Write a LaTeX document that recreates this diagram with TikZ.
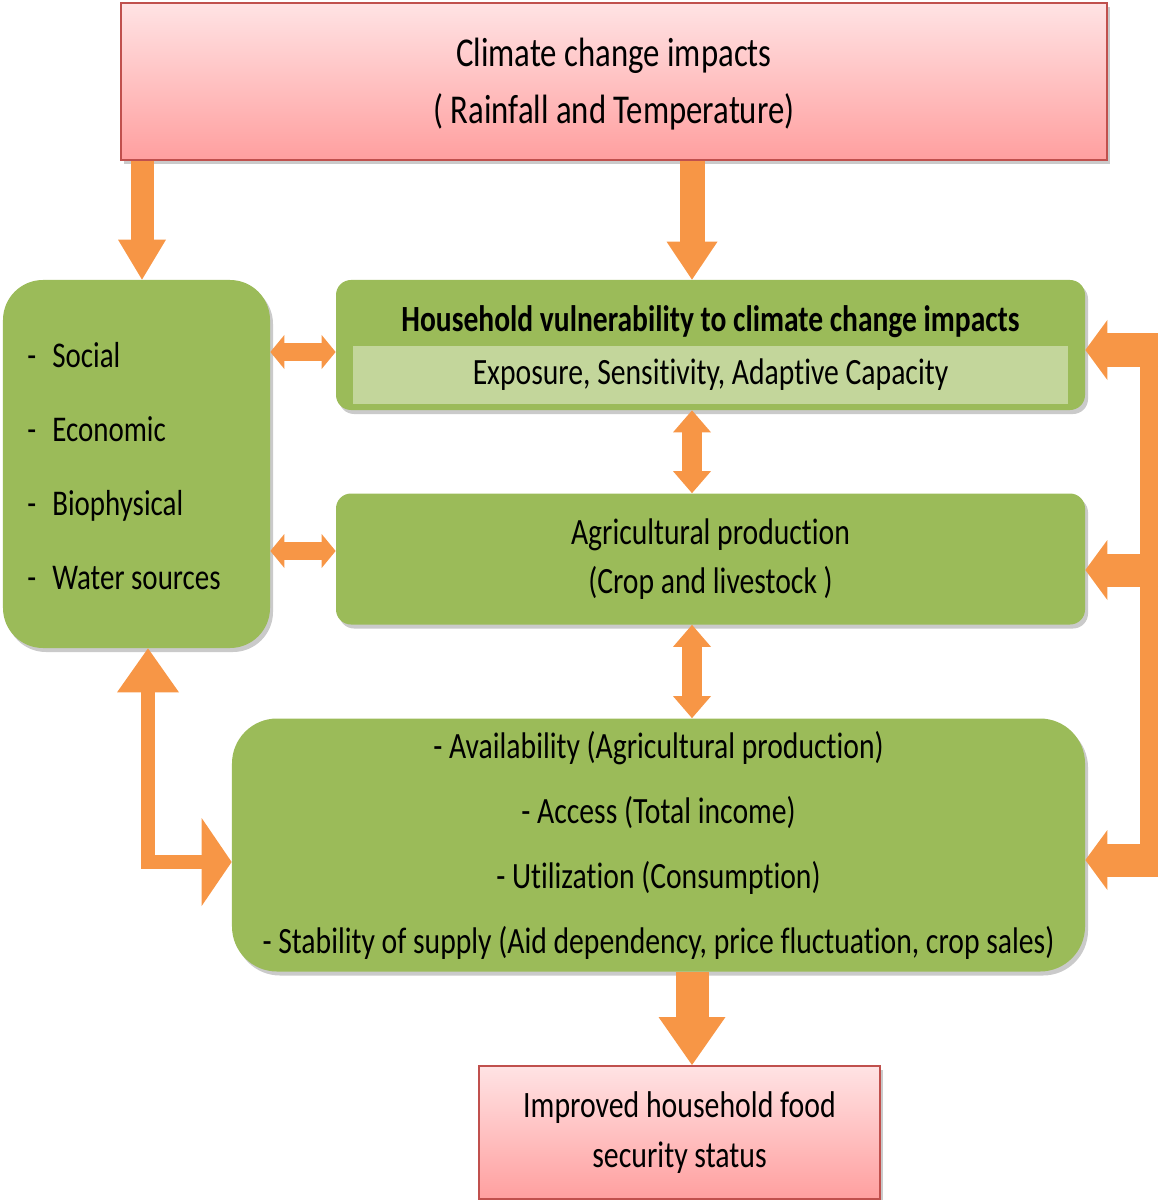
\documentclass[tikz,border=0pt]{standalone}
\usepackage{fontspec}
\setmainfont{Carlito}[FakeStretch=0.8,Ligatures=CommonOff]
\usepackage{tikz}
\usetikzlibrary{arrows.meta,shadows}
\definecolor{leaf}{HTML}{9BBB59}
\definecolor{leaflight}{HTML}{C3D69B}
\definecolor{arrowor}{HTML}{F79646}
\definecolor{pinkedge}{HTML}{C0504D}
\definecolor{pinktop}{HTML}{FFE3E4}
\definecolor{pinkbot}{HTML}{FF9F9F}
\newcommand{\dashitem}{\makebox[5mm][l]{-}}

\begin{document}
\begin{tikzpicture}[
      x=0.2mm, y=-0.2mm,
      softshadow/.style={drop shadow={shadow xshift=0.6mm,shadow yshift=-0.8mm,opacity=0.35,fill=black!60}},
      pinkbox/.style={draw=pinkedge,line width=0.4mm,top color=pinktop,bottom color=pinkbot,align=center,softshadow},
      greenbox/.style={fill=leaf,rounded corners=3mm,softshadow},
      band/.style={fill=leaflight,minimum width=143mm,minimum height=11.6mm},
      bigdown/.style={arrowor,line width=#1},
      twin/.style={arrowor,line width=4mm,{Triangle[length=4.4mm,width=7.6mm,line width=0pt]}-{Triangle[length=4.4mm,width=7.6mm,line width=0pt]}},
      sidetwin/.style={arrowor,line width=3.6mm,{Triangle[length=2.8mm,width=6.8mm,line width=0pt]}-{Triangle[length=2.8mm,width=6.8mm,line width=0pt]}},
      arm/.style={arrowor,line width=6.6mm,-{Triangle[length=4.4mm,width=12mm,line width=0pt]}}
  ]
    \useasboundingbox (0,0) rectangle (1163,1200);

    % boxes
    \node[pinkbox, minimum width=197.2mm, minimum height=31.4mm] (top) at (614,81.5) {};
    \node[align=center, font={\fontsize{23.3}{32}\selectfont}] (toptext) at (614,84)
      {Climate change impacts\\( Rainfall and Temperature)};

    \node[greenbox, rounded corners=8mm, minimum width=53.4mm, minimum height=73.6mm] (fac) at (136.5,464) {};
    \node[anchor=west, inner sep=0pt, align=left, font={\fontsize{20.6}{42}\selectfont}] (faclist) at (27,466)
      {\dashitem Social\\\dashitem Economic\\\dashitem Biophysical\\\dashitem Water sources};

    \node[greenbox, minimum width=149.8mm, minimum height=26mm] (vul) at (710.5,345) {};
    \node[font={\fontsize{21}{24}\selectfont\bfseries}] (vulhead) at (710.5,322)
      {Household vulnerability to climate change impacts};
    \node[band, font={\fontsize{21.1}{24}\selectfont}] (expo) at (710.5,375)
      {Exposure, Sensitivity, Adaptive Capacity};

    \node[greenbox, minimum width=149.8mm, minimum height=26.2mm, align=center, font={\fontsize{21.1}{28}\selectfont}] (agri) at (710.5,559)
      {Agricultural production\\(Crop and livestock )};

    \node[greenbox, rounded corners=9mm, minimum width=170.6mm, minimum height=50.6mm, align=center, font={\fontsize{21.1}{37}\selectfont}] (food) at (658.5,845)
      {- Availability (Agricultural production)\\- Access (Total income)\\- Utilization (Consumption)\\- Stability of supply (Aid dependency, price fluctuation, crop sales)};

    \node[pinkbox, minimum width=80.2mm, minimum height=26.6mm, font={\fontsize{21.2}{28.5}\selectfont}] (res) at (679.5,1132.5)
      {Improved household food\\security status};

    % helper points
    \coordinate (lx) at (142,200);
    \coordinate (axis) at (692,600);
    \coordinate (h1) at (300,352);
    \coordinate (h2) at (300,551);
    \coordinate (lbend) at (148,862);
    \coordinate (r1) at (1158,350);
    \coordinate (r2) at (1158,570);
    \coordinate (r3) at (1158,860);
    \coordinate (rtop) at (1149,333.5);
    \coordinate (rbot) at (1149,876.5);

    % arrows
    \draw[bigdown=4.6mm, -{Triangle[length=8mm,width=9.6mm,line width=0pt]}] (top.south -| lx) -- (fac.north -| lx);
    \draw[bigdown=5mm, -{Triangle[length=7.6mm,width=10.2mm,line width=0pt]}] (top.south -| axis) -- (vul.north -| axis);
    \draw[twin] (vul.south -| axis) -- (agri.north -| axis);
    \draw[twin] (agri.south -| axis) -- (food.north -| axis);
    \draw[bigdown=6.6mm, -{Triangle[length=9.6mm,width=13.4mm,line width=0pt]}] (food.south -| axis) -- (res.north -| axis);
    \draw[sidetwin] (fac.east |- h1) -- (vul.west |- h1);
    \draw[sidetwin] (fac.east |- h2) -- (agri.west |- h2);
    \draw[arrowor, line width=2.8mm, line join=miter,
      {Triangle[length=8.8mm,width=12.4mm,line width=0pt]}-{Triangle[length=6mm,width=17.6mm,line width=0pt]}]
      (fac.south -| lbend) -- (lbend) -- (lbend -| food.west);
    \draw[arrowor, line width=3.6mm] (rtop) -- (rbot);
    \draw[arm] (r1) -- (r1 -| vul.east);
    \draw[arm] (r2) -- (r2 -| agri.east);
    \draw[arm] (r3) -- (r3 -| food.east);
\end{tikzpicture}
\end{document}
